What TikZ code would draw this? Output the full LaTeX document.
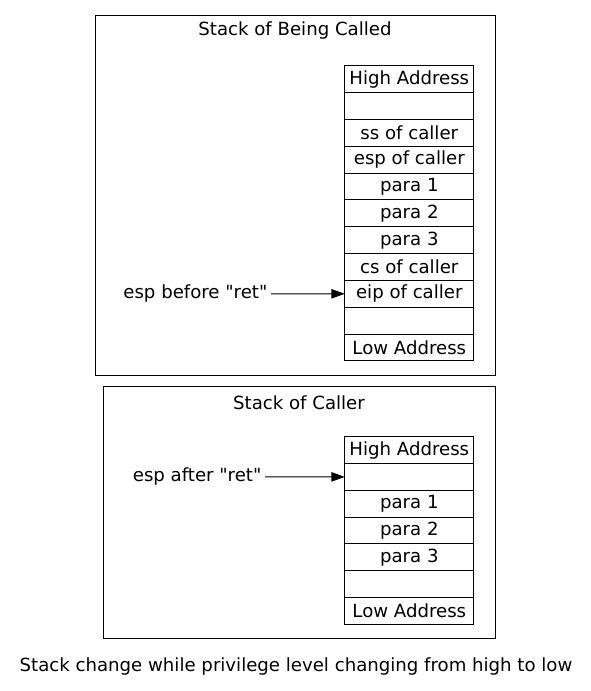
\documentclass[tikz,border=0pt]{standalone}
\usepackage{fontspec}
\setmainfont{DejaVu Sans}[Ligatures=TeXOff]
\usetikzlibrary{arrows.meta,positioning}

\begin{document}
\begin{tikzpicture}[x=0.75pt,y=-0.75pt,
		every node/.style={font=\fontsize{13.6}{16}\selectfont},
		slot/.style={draw, line width=0.75pt, minimum width=96.75pt,
			minimum height=20.1pt, inner sep=0pt, outer sep=0pt},
		frame/.style={draw, line width=0.75pt},
		ptr/.style={-{Triangle[length=10pt, width=7pt]}, line width=0.75pt},
		tag/.style={inner sep=2.5pt, anchor=east}]
		\newcommand\colx{409.3}
		\newcommand\rowh{26.8}
		\useasboundingbox (0,0) rectangle (591,691);
		% clusters
		\draw[frame] (95,15.5) rectangle (495,375);
		\draw[frame] (103.5,386) rectangle (495,638.5);
		\node (callee) at (295,31) {Stack of Being Called};
		\node (caller) at (299,403) {Stack of Caller};
		% stack of being called
		\foreach \txt [count=\i] in {High Address, {}, ss of caller, esp of caller,
			para 1, para 2, para 3, cs of caller, eip of caller, {}, Low Address}
			\node[slot, anchor=north] (a\i) at (\colx,66+\rowh*\i-\rowh) {\txt};
		% stack of caller
		\foreach \txt [count=\i] in {High Address, {}, para 1, para 2, para 3,
			{}, Low Address}
			\node[slot, anchor=north] (b\i) at (\colx,436.7+\rowh*\i-\rowh) {\txt};
		% pointers
		\node[tag] (before) at (271,293.8) {esp before "ret"};
		\node[tag] (after) at (265,476.9) {esp after "ret"};
		\draw[ptr] (before) -- (a9);
		\draw[ptr] (after) -- (b2);
		% caption
		\node (cap) at (296,666) {Stack change while privilege level changing from high to low};
	\end{tikzpicture}
\end{document}
